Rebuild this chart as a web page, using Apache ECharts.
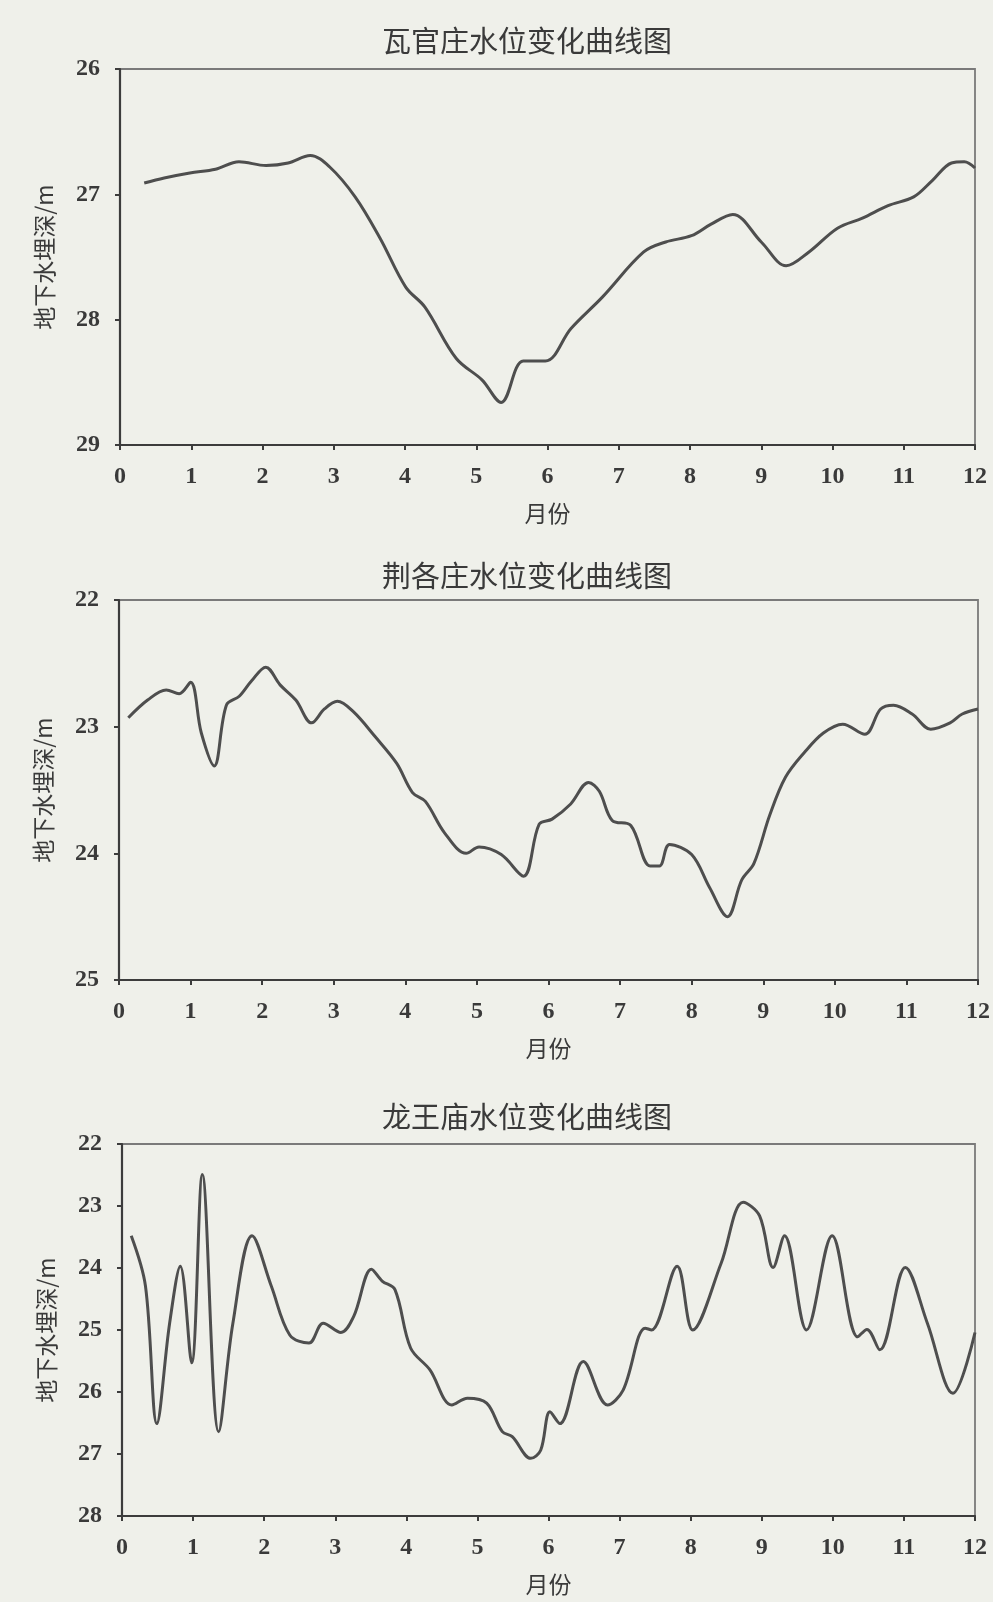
<!DOCTYPE html>
<html>
<head>
<meta charset="utf-8">
<script src="https://cdn.jsdelivr.net/npm/echarts@6/dist/echarts.min.js"></script>
<style>
html,body{margin:0;padding:0;background:#eff0ea;}
#c{width:993px;height:1602px;}
</style>
</head>
<body>
<div id="c"></div>
<script>
// ---- data ----
const titles = ['瓦官庄水位变化曲线图', '荆各庄水位变化曲线图', '龙王庙水位变化曲线图'];
const xTicks = [0,1,2,3,4,5,6,7,8,9,10,11,12];

const wgzMonth = [0.34,0.62,0.98,1.34,1.67,2.05,2.36,2.67,2.94,3.30,3.65,4.01,4.28,4.72,5.08,5.35,5.66,5.97,6.33,6.77,7.35,7.66,8.02,8.29,8.60,9.00,9.35,9.67,10.07,10.42,10.78,11.14,11.40,11.67,11.85,12.0];
const wgzDepth = [26.91,26.87,26.83,26.80,26.74,26.77,26.75,26.69,26.78,27.02,27.35,27.74,27.90,28.31,28.48,28.66,28.33,28.33,28.07,27.82,27.46,27.38,27.33,27.24,27.16,27.38,27.57,27.46,27.27,27.19,27.09,27.02,26.89,26.75,26.74,26.79];

const jgzMonth = [0.13,0.40,0.66,0.84,1.0,1.15,1.33,1.50,1.68,1.85,2.05,2.25,2.47,2.69,2.87,3.05,3.27,3.58,3.88,4.10,4.28,4.55,4.85,5.03,5.34,5.65,5.87,6.05,6.31,6.56,6.71,6.89,7.15,7.42,7.55,7.69,8.0,8.25,8.50,8.70,8.87,9.09,9.31,9.58,9.84,10.11,10.42,10.64,10.82,11.08,11.34,11.61,11.78,12.0];
const jgzDepth = [22.93,22.79,22.71,22.74,22.65,23.05,23.31,22.83,22.76,22.64,22.53,22.67,22.79,22.97,22.86,22.80,22.88,23.08,23.29,23.52,23.59,23.84,24.00,23.95,24.01,24.18,23.77,23.73,23.61,23.44,23.51,23.74,23.78,24.10,24.10,23.93,24.01,24.27,24.50,24.21,24.08,23.70,23.40,23.20,23.05,22.98,23.06,22.86,22.83,22.90,23.02,22.97,22.90,22.86];

const lwmMonth = [0.13,0.33,0.49,0.67,0.82,0.98,1.13,1.36,1.56,1.83,2.10,2.36,2.63,2.83,3.08,3.26,3.51,3.66,3.84,4.06,4.33,4.64,4.86,5.13,5.35,5.49,5.75,5.89,6.02,6.16,6.49,6.83,7.05,7.36,7.45,7.81,8.03,8.43,8.74,8.97,9.16,9.32,9.63,9.99,10.35,10.48,10.66,11.02,11.33,11.69,12.0];
const lwmDepth = [23.48,24.29,26.51,24.89,23.97,25.53,22.49,26.64,24.89,23.48,24.29,25.08,25.21,24.89,25.04,24.78,24.02,24.21,24.35,25.29,25.64,26.21,26.10,26.18,26.64,26.72,27.07,26.94,26.32,26.51,25.51,26.21,25.97,24.97,25.00,23.97,25.00,23.92,22.94,23.16,23.99,23.48,25.00,23.48,25.11,24.99,25.32,23.99,24.89,26.02,25.04];

const yRanges = [[26,29,1],[22,25,1],[22,28,1]];
const yName = '地下水埋深/m';
const xName = '月份';

// ---- layout ----
const grids = [
  {left:120, top:69, width:855, height:376},
  {left:119, top:600, width:859, height:380},
  {left:122, top:1144, width:853, height:372}
];
const titleTops = [21, 556, 1097];

const series = [[wgzMonth,wgzDepth],[jgzMonth,jgzDepth],[lwmMonth,lwmDepth]];
const numFont = '"Liberation Serif", "DejaVu Serif", serif';
const cjkFont = '"Noto Sans CJK SC", sans-serif';

const option = {
  backgroundColor: '#eff0ea',
  animation: false,
  title: titles.map((t,i)=>({
    text: t, left: 522, top: titleTops[i], textAlign: 'center',
    textStyle: {fontFamily: cjkFont, fontSize: 29, fontWeight: 'normal', color: '#3a3a3a'}
  })),
  grid: grids.map(g=>Object.assign({show:true, borderColor:'#7a7a7a', borderWidth:1.8, backgroundColor:'transparent'}, g)),
  xAxis: grids.map((g,i)=>({
    type:'value', gridIndex:i, min:0, max:12, interval:1,
    name: xName, nameLocation:'middle', nameGap: 57,
    nameTextStyle:{fontFamily: cjkFont, fontSize:23, color:'#3a3a3a'},
    axisLine:{show:true, onZero:false, lineStyle:{color:'#3c3c3c', width:2.2}},
    axisTick:{show:true, length:5, lineStyle:{color:'#3c3c3c', width:2}},
    axisLabel:{fontFamily: numFont, fontSize:24, fontWeight:'bold', color:'#3a3a3a', margin:20,
      formatter: v => String(xTicks[v] !== undefined ? xTicks[v] : v)},
    splitLine:{show:false}
  })),
  yAxis: grids.map((g,i)=>({
    type:'value', gridIndex:i, inverse:true,
    min: yRanges[i][0], max: yRanges[i][1], interval: yRanges[i][2],
    name: yName, nameLocation:'middle', nameGap: 64, nameRotate: 90,
    nameTextStyle:{fontFamily: cjkFont, fontSize:23, color:'#3a3a3a'},
    axisLine:{show:true, onZero:false, lineStyle:{color:'#3c3c3c', width:2.2}},
    axisTick:{show:true, length:5, lineStyle:{color:'#3c3c3c', width:2}},
    axisLabel:{fontFamily: numFont, fontSize:24, fontWeight:'bold', color:'#3a3a3a', margin:20},
    splitLine:{show:false}
  })),
  series: series.map((s,i)=>({
    type:'line', xAxisIndex:i, yAxisIndex:i,
    data: s[0].map((m,k)=>[m, s[1][k]]),
    smooth: 0.35, showSymbol:false, symbol:'none',
    lineStyle:{color:'#4e4e4e', width:3}
  }))
};

const chart = echarts.init(document.getElementById('c'));
chart.setOption(option);
</script>
</body>
</html>
